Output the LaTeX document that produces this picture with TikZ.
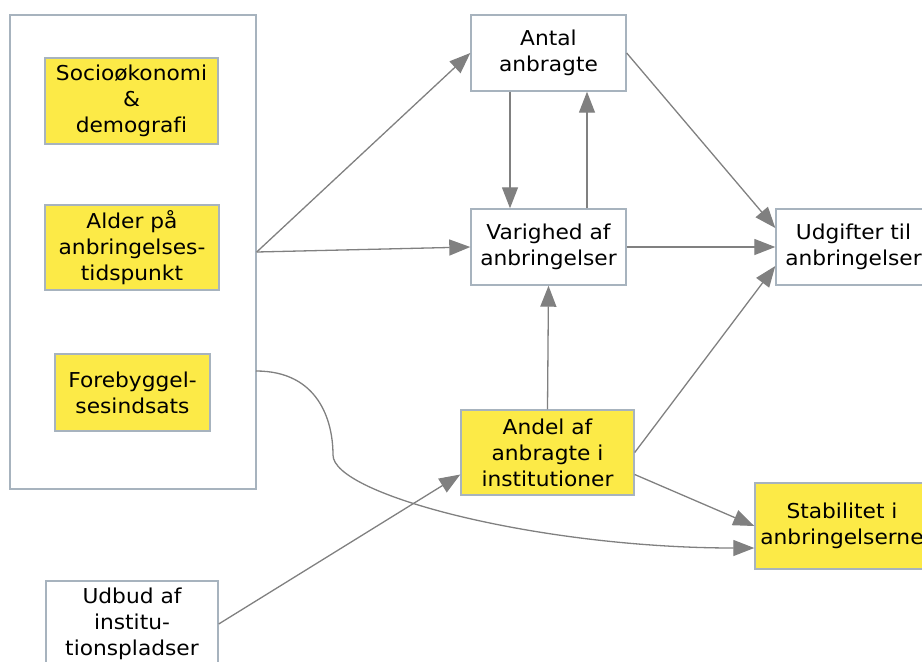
\documentclass[tikz,border=0pt]{standalone}
\usepackage{fontspec}
\setmainfont{DejaVu Sans}[FakeStretch=1.06,Ligatures=NoCommon]
\usetikzlibrary{arrows.meta,positioning}
\definecolor{boxline}{HTML}{A7B3BE}
\definecolor{boxfill}{HTML}{FCEA47}
\definecolor{arrowgray}{HTML}{808080}

\begin{document}
\begin{tikzpicture}[x=1pt,y=-1pt]
\tikzstyle{main}=[rectangle, draw=boxline, line width=1.4pt, fill=white, align=center, inner sep=1pt, font=\fontsize{20.5}{26}\selectfont]
\tikzstyle{factor}=[main, fill=boxfill]
\tikzstyle{connect}=[-{Triangle[length=21pt,width=16pt]}, line width=1.3pt, draw=arrowgray, color=arrowgray]
\tikzstyle{box}=[rectangle, draw=boxline, line width=1.4pt, minimum width=246pt, minimum height=474pt]
\useasboundingbox (0,0) rectangle (922,662);
  \node[box] (frame) at (133,252) {};
  \node[factor, minimum width=173pt, minimum height=86pt] (socio) at (131.5,101) {Socioøkonomi\\\&\\demografi};
  \node[factor, minimum width=174pt, minimum height=85pt] (alder) at (132,247.5) {Alder på\\anbringelses-\\tidspunkt};
  \node[factor, minimum width=155pt, minimum height=77pt] (forebyg) at (132.5,392.5) {Forebyggel-\\sesindsats};
  \node[main, minimum width=155pt, minimum height=76pt] (antal) at (548.5,53) {Antal\\anbragte};
  \node[main, minimum width=155pt, minimum height=76pt] (varighed) at (548.5,247) {Varighed af\\anbringelser};
  \node[main, minimum width=155pt, minimum height=76pt] (udgifter) at (853.5,247) {Udgifter til\\anbringelser};
  \node[factor, minimum width=173pt, minimum height=85pt] (andel) at (547.5,452.5) {Andel af\\anbragte i\\institutioner};
  \node[factor, minimum width=174pt, minimum height=86pt] (stabil) at (842,526) {Stabilitet i\\anbringelserne};
  \node[main, minimum width=172pt, minimum height=86pt] (udbud) at (132,624) {Udbud af\\institu-\\tionspladser};
  \coordinate (bend) at (256,371);
\path (frame.east) edge[connect] (antal.west)
           (frame.east) edge[connect] (varighed.west)
           ([xshift=-38.5pt]antal.south) edge[connect] ([xshift=-38.5pt]varighed.north)
           ([xshift=38.5pt]varighed.north) edge[connect] ([xshift=38.5pt]antal.south)
           (antal.east) edge[connect] ([yshift=19pt]udgifter.west)
           (varighed.east) edge[connect] (udgifter.west)
           (andel.north) edge[connect] (varighed.south)
           (andel.east) edge[connect] ([yshift=-19pt]udgifter.west)
           ([yshift=-22pt]andel.east) edge[connect] (stabil.west)
           (udbud.east) edge[connect] ([yshift=-22pt]andel.west)
           ;
\draw[connect] (bend) .. controls (318,371) and (333,420) .. (333,455)
           .. controls (333,495) and (540,548) .. ([yshift=-22pt]stabil.west);
\end{tikzpicture}
\end{document}
